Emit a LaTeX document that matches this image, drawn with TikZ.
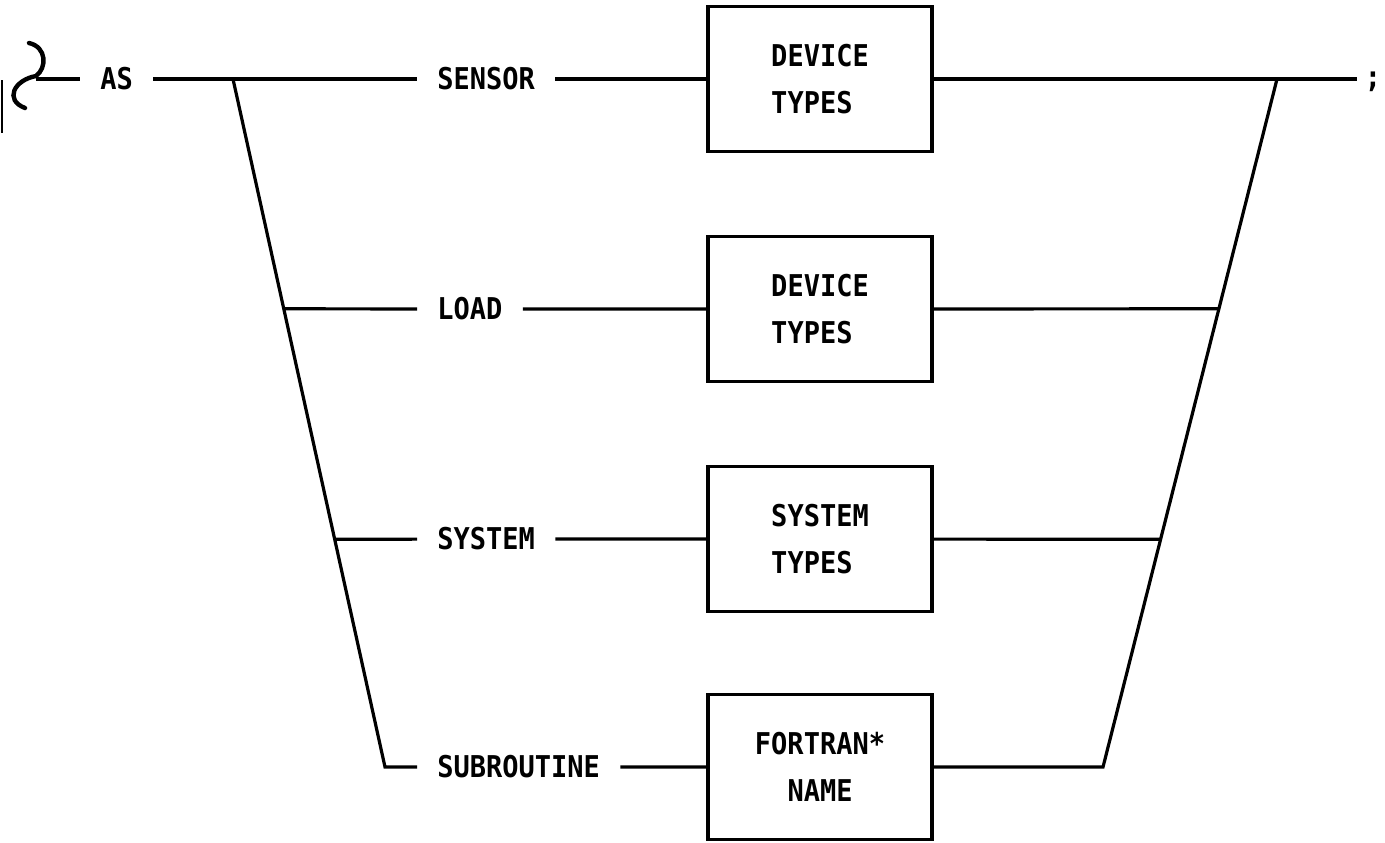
\documentclass[tikz,border=0pt]{standalone}
\usepackage{fontspec}
\newfontfamily\diafont[FakeStretch=0.9]{DejaVu Sans Mono}
\usetikzlibrary{calc}

\begin{document}
\begin{tikzpicture}[x=0.5pt,y=0.5pt,yscale=-1,xscale=1,
	synline/.style={line width=1.6pt},
	kw/.style={anchor=west,inner xsep=10pt,inner ysep=2pt,font=\diafont\bfseries\fontsize{15}{23.5}\selectfont},
	typebox/.style={draw,line width=1.6pt,minimum width=112pt,minimum height=72.5pt,align=left,font=\diafont\bfseries\fontsize{15}{23.5}\selectfont}]
			\useasboundingbox (0,0) rectangle (1385,842);
			
			%Straight Lines [margin mark]
			\draw [line width=0.8pt] (2,80) -- (2,133) ;
			%Curve [entry curl]
			\draw [line width=2.2pt,line cap=round] (29,43) .. controls (47,47) and (47,68) .. (36,76) .. controls (14,80) and (4,100) .. (25,108) ;
			
			% Text Node
			\node (as) [kw] at (80,79) {AS};
			% Text Node
			\node (sensor) [kw] at (417,79) {SENSOR};
			% Text Node
			\node (load) [kw] at (417,309) {LOAD};
			% Text Node
			\node (system) [kw] at (417,539) {SYSTEM};
			% Text Node
			\node (subrtn) [kw] at (417,767) {SUBROUTINE};
			
			%Shape: Rectangle
			\node (devsens) [typebox] at (820,79) {DEVICE\\TYPES};
			%Shape: Rectangle
			\node (devload) [typebox] at (820,309) {DEVICE\\TYPES};
			%Shape: Rectangle
			\node (systypes) [typebox] at (820,539) {SYSTEM\\TYPES};
			%Shape: Rectangle
			\node (fortname) [typebox,align=center] at (820,767) {FORTRAN*\\NAME};
			
			% Text Node
			\node (semi) [inner sep=0pt,font=\diafont\bfseries\fontsize{15}{23.5}\selectfont] at (1373,82) {;};
			
			\coordinate (c0) at (36,79);
			\coordinate (lt) at (233,79);
			\coordinate (lb) at (385,767);
			\coordinate (rt) at (1277,79);
			\coordinate (rb) at (1103,767);
			\coordinate (tail) at (1357,79);
			\coordinate (l2) at ($(lt)!0.334!(lb)$);
			\coordinate (l3) at ($(lt)!0.669!(lb)$);
			\coordinate (r2) at ($(rt)!0.334!(rb)$);
			\coordinate (r3) at ($(rt)!0.669!(rb)$);
			
			%Straight Lines
			\draw [synline] (c0) -- (as) ;
			\draw [synline] (as) -- (sensor) -- (devsens) -- (tail) ;
			\draw [synline] (lt) -- (lb) -- (subrtn) ;
			\draw [synline] (l2) -- (load) -- (devload) -- (r2) ;
			\draw [synline] (l3) -- (system) -- (systypes) -- (r3) ;
			\draw [synline] (subrtn) -- (fortname) -- (rb) -- (rt) ;
			
\end{tikzpicture}
\end{document}
